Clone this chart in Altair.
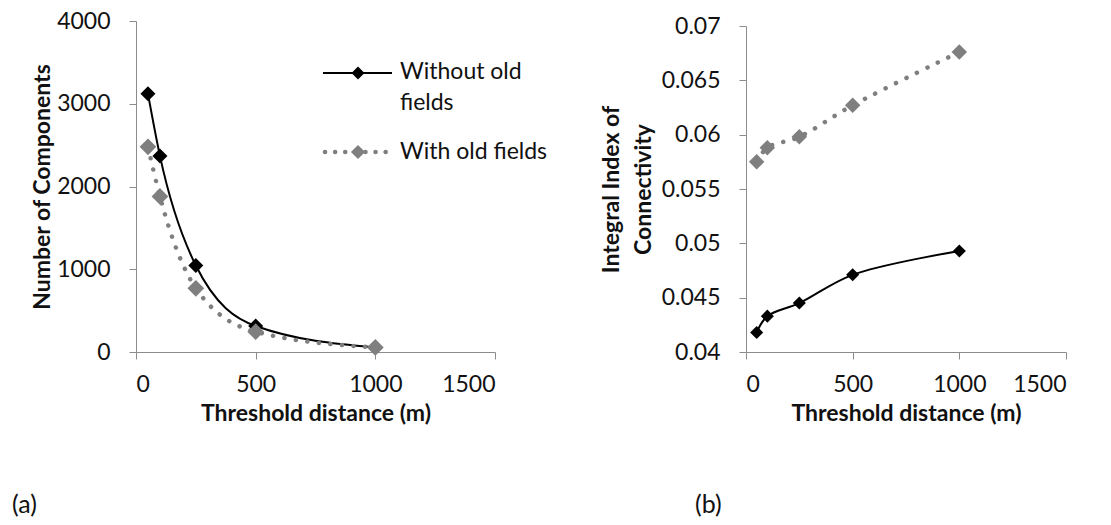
import altair as alt
import pandas as pd

# ---- data ----
distance = [50, 100, 250, 500, 1000]
components_without = [3120, 2370, 1045, 315, 55]
components_with = [2480, 1880, 770, 245, 55]
iic_without = [0.0418, 0.0433, 0.0445, 0.0471, 0.0493]
iic_with = [0.0575, 0.0588, 0.0598, 0.0627, 0.0676]

x_ticks = [0, 500, 1000, 1500]
comp_ticks = [0, 1000, 2000, 3000, 4000]
iic_ticks = [0.04, 0.045, 0.05, 0.055, 0.06, 0.065, 0.07]

FONT = "Lato"
BLACK = "#000000"
GREY = "#7f7f7f"
AX = "#8c8c8c"
TXT = "#111111"

df_a = pd.DataFrame({"d": distance, "without": components_without, "with": components_with})
df_b = pd.DataFrame({"d": distance, "without": iic_without, "with": iic_with})

AXSTYLE = dict(grid=False, domainColor=AX, tickColor=AX, tickSize=7, labelFont=FONT, labelFontSize=23,
               labelColor=TXT, titleFont=FONT, titleFontSize=23, titleFontWeight="bold", titleColor=TXT,
               titleLineHeight=32)

def xaxis():
    return alt.X("d:Q", scale=alt.Scale(domain=[0, 1500], nice=False),
                 axis=alt.Axis(values=x_ticks, title="Threshold distance (m)", labelPadding=14,
                               titlePadding=6, format="d", **AXSTYLE))

def panel(df, h, top, ydomain, yticks, ytitle, yfmt, sizes, labeltext, lab_x, lab_y, titlepad, interp):
    base = alt.Chart(df)
    y_scale = alt.Scale(domain=ydomain, nice=False, zero=False, range=[h, top])
    yax = alt.Axis(values=yticks, title=ytitle, labelPadding=19, titlePadding=titlepad, format=yfmt,
                   **AXSTYLE)
    l1 = base.mark_line(color=BLACK, strokeWidth=2, interpolate=interp).encode(
        x=xaxis(), y=alt.Y("without:Q", scale=y_scale, axis=yax))
    p1 = base.mark_point(shape="diamond", filled=True, color=BLACK, size=sizes[0], opacity=1).encode(
        x="d:Q", y="without:Q")
    l2 = base.mark_line(color=GREY, strokeWidth=4.5, strokeCap="round", strokeDash=[0.1, 11.5],
                        interpolate=interp).encode(x="d:Q", y="with:Q")
    p2 = base.mark_point(shape="diamond", filled=True, color=GREY, size=sizes[1], opacity=1).encode(
        x="d:Q", y="with:Q")
    lab = alt.Chart(pd.DataFrame({"t": [labeltext]})).mark_text(
        font=FONT, fontSize=25, align="left", baseline="middle", color=TXT).encode(
        text="t:N", x=alt.value(lab_x), y=alt.value(lab_y))
    return [l1, p1, l2, p2, lab]

a_layers = panel(df_a, 331, 0, [0, 4000], comp_ticks, "Number of Components", "d",
                 [225, 280], "(a)", -124, 484, 2, "monotone")

# legend for panel (a)
leg = alt.Chart(pd.DataFrame({"k": [0]}))
leg_l1 = leg.mark_rule(color=BLACK, strokeWidth=2).encode(
    x=alt.value(187), x2=alt.value(256), y=alt.value(52))
leg_p1 = leg.mark_point(shape="diamond", filled=True, color=BLACK, size=170, opacity=1).encode(
    x=alt.value(222), y=alt.value(52))
leg_l2 = leg.mark_rule(color=GREY, strokeWidth=4.5, strokeCap="round", strokeDash=[0.1, 10]).encode(
    x=alt.value(189), x2=alt.value(256), y=alt.value(131))
leg_p2 = leg.mark_point(shape="diamond", filled=True, color=GREY, size=200, opacity=1).encode(
    x=alt.value(222), y=alt.value(131))
leg_txt = alt.Chart(pd.DataFrame({"t": ["Without old", "fields", "With old fields"],
                                  "yy": [51, 82, 131]})).mark_text(
    font=FONT, fontSize=23, align="left", baseline="middle", color=TXT).encode(
    text="t:N", x=alt.value(264), y=alt.Y("yy:Q", scale=None))

chart_a = alt.layer(*a_layers, leg_l1, leg_p1, leg_l2, leg_p2, leg_txt).properties(width=359, height=331)

b_layers = panel(df_b, 331, 5, [0.04, 0.07], iic_ticks, ["Integral Index of", "Connectivity"], ".3~f",
                 [170, 240], "(b)", -51, 484, 6, "catmull-rom")
chart_b = alt.layer(*b_layers).properties(width=320, height=331)

chart = alt.hconcat(chart_a, chart_b, spacing=52).properties(
    padding={"left": 12, "top": 10, "right": 5, "bottom": 5}, background="white"
).configure_view(stroke=None)

chart.save("out.html", embed_options={"renderer": "svg", "actions": False})
